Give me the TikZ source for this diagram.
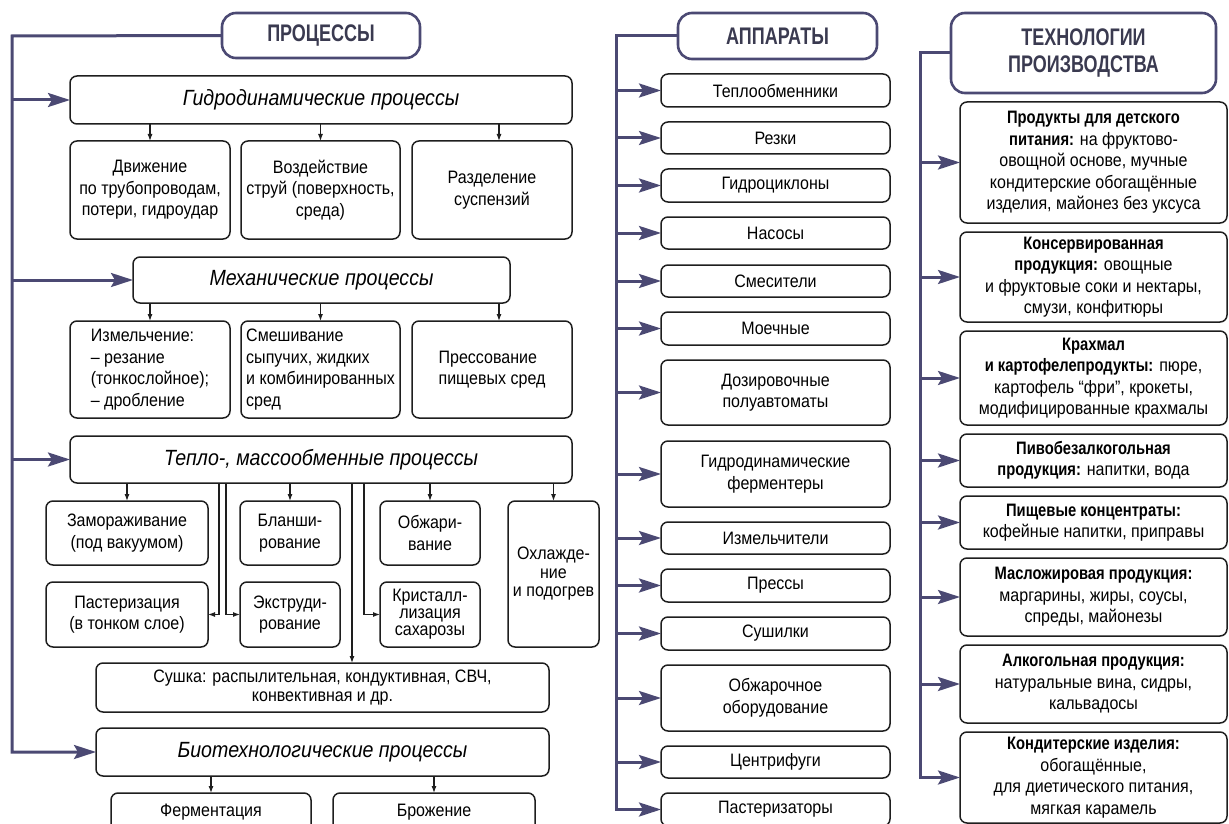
\documentclass[tikz,border=0pt]{standalone}
\usepackage{fontspec}
\setmainfont{Liberation Sans}[FakeStretch=0.89]
\newfontfamily\boldcond{Liberation Sans}[FakeStretch=0.82]
\newfontfamily\titlecond{Liberation Sans}[FakeStretch=0.75]
\usetikzlibrary{arrows.meta}
\definecolor{navy}{RGB}{75,73,115}
\definecolor{titletext}{RGB}{58,58,80}
\definecolor{boxline}{RGB}{30,30,30}
\newcommand{\bcond}[1]{{\boldcond\bfseries #1}}

\begin{document}
\begin{tikzpicture}[x=1pt, y=-1pt,
  box/.style={draw=boxline, line width=1.5pt, rounded corners=7pt, inner sep=0pt, outer sep=0pt,
    anchor=north west, align=center, font=\fontsize{18}{21.5}\selectfont},
  headbox/.style={box, font=\itshape\fontsize{22}{26}\selectfont},
  titlebox/.style={draw=navy, line width=2.6pt, rounded corners=14pt, inner sep=0pt, outer sep=0pt,
    anchor=north west, align=center, text=titletext, font=\titlecond\bfseries\fontsize{24}{27}\selectfont},
  mainarrow/.style={draw=navy, line width=3pt, -{Stealth[length=22pt,width=14pt,inset=4pt]}},
  subarrow/.style={draw=boxline, line width=1.1pt, -{Latex[length=7pt,width=5pt]}}]
  \useasboundingbox (0,0) rectangle (1229,824);

  % Процессы
  \node[titlebox, minimum width=198, minimum height=45] (proc) at (222,13) {ПРОЦЕССЫ};
  \node[headbox, minimum width=502, minimum height=48] (gidro) at (70,76) {Гидродинамические процессы};
  \node[box, minimum width=160, minimum height=98] (dvig) at (70,141) {Движение\\по трубопроводам,\\потери, гидроудар};
  \node[box, minimum width=159, minimum height=98] (vozd) at (241,141) {Воздействие\\струй (поверхность,\\среда)};
  \node[box, minimum width=160, minimum height=98] (razd) at (412,141) {Разделение\\суспензий};

  \node[headbox, minimum width=377, minimum height=46] (mech) at (133,257) {Механические процессы};
  \node[box, align=left, minimum width=160, minimum height=97] (izm) at (70,321) {Измельчение:\\– резание\\(тонкослойное);\\– дробление};
  \node[box, align=left, minimum width=159, minimum height=97] (smesh) at (241,321) {Смешивание\\сыпучих, жидких\\и комбинированных\\сред};
  \node[box, align=left, minimum width=160, minimum height=97] (pressov) at (412,321) {Прессование\\пищевых сред};

  \node[headbox, minimum width=502, minimum height=47] (heat) at (70,436) {Тепло-, массообменные процессы};
  \node[box, minimum width=162, minimum height=64] (zamor) at (46,501) {Замораживание\\(под вакуумом)};
  \node[box, minimum width=100, minimum height=64] (blansh) at (240,501) {Бланши-\\рование};
  \node[box, minimum width=100, minimum height=64] (obzhar) at (380,501) {Обжари-\\вание};
  \node[box, minimum width=91, minimum height=146, font=\fontsize{18}{18.5}\selectfont] (ohlazh) at (508,501) {Охлажде-\\ние\\и подогрев};
  \node[box, minimum width=162, minimum height=65] (pasteriz) at (46,582) {Пастеризация\\(в тонком слое)};
  \node[box, minimum width=100, minimum height=65] (extr) at (240,582) {Экструди-\\рование};
  \node[box, minimum width=100, minimum height=65, font=\fontsize{18}{17}\selectfont] (kristal) at (380,582) {Кристалл-\\лизация\\сахарозы};
  \node[box, minimum width=453, minimum height=49, font=\fontsize{18}{19}\selectfont] (sushka) at (96,663) {Сушка: распылительная, кондуктивная, СВЧ,\\конвективная и др.};

  \node[headbox, minimum width=453, minimum height=48] (bio) at (96,728) {Биотехнологические процессы};
  \node[box, minimum width=200, minimum height=39] (ferment) at (111,793) {Ферментация};
  \node[box, minimum width=202, minimum height=39] (brozh) at (333,793) {Брожение};

  % Левая шина
  \coordinate (ls) at (12,36);
  \draw[mainarrow] (proc.west) -- (ls) |- (bio.west);
  \draw[mainarrow] (ls |- gidro.west) -- (gidro.west);
  \draw[mainarrow] (ls |- mech.west) -- (mech.west);
  \draw[mainarrow] (ls |- heat.west) -- (heat.west);

  % Стрелки внутри
  \draw[subarrow] (dvig.north |- gidro.south) -- (dvig.north);
  \draw[subarrow] (vozd.north |- gidro.south) -- (vozd.north);
  \draw[subarrow] ([xshift=7pt]razd.north |- gidro.south) -- ([xshift=7pt]razd.north);
  \draw[subarrow] (izm.north |- mech.south) -- (izm.north);
  \draw[subarrow] (smesh.north |- mech.south) -- (smesh.north);
  \draw[subarrow] ([xshift=7pt]pressov.north |- mech.south) -- ([xshift=7pt]pressov.north);
  \draw[subarrow] (zamor.north |- heat.south) -- (zamor.north);
  \draw[subarrow] (blansh.north |- heat.south) -- (blansh.north);
  \draw[subarrow] (obzhar.north |- heat.south) -- (obzhar.north);
  \draw[subarrow] (ohlazh.north |- heat.south) -- (ohlazh.north);
  \coordinate (la) at (219,0);
  \coordinate (lb) at (226,0);
  \coordinate (lc) at (352,0);
  \coordinate (ld) at (364,0);
  \draw[subarrow] (heat.south -| la) |- (pasteriz.east);
  \draw[subarrow] (heat.south -| lb) |- (extr.west);
  \draw[subarrow] (heat.south -| lc) -- (lc |- sushka.north);
  \draw[subarrow] (heat.south -| ld) |- (kristal.west);
  \draw[subarrow] (ferment.north |- bio.south) -- (ferment.north);
  \draw[subarrow] (brozh.north |- bio.south) -- (brozh.north);

  % Аппараты
  \node[titlebox, minimum width=199, minimum height=46] (app) at (678,13) {АППАРАТЫ};
  \node[box, minimum width=229, minimum height=33] (teplo) at (661,74) {Теплообменники};
  \node[box, minimum width=229, minimum height=32] (rezki) at (661,122) {Резки};
  \node[box, minimum width=229, minimum height=33] (gcikl) at (661,169) {Гидроциклоны};
  \node[box, minimum width=229, minimum height=32] (nasos) at (661,217) {Насосы};
  \node[box, minimum width=229, minimum height=32] (smesit) at (661,265) {Смесители};
  \node[box, minimum width=229, minimum height=33] (moech) at (661,312) {Моечные};
  \node[box, minimum width=229, minimum height=65] (doz) at (661,360) {Дозировочные\\полуавтоматы};
  \node[box, minimum width=229, minimum height=66] (ferm) at (661,441) {Гидродинамические\\ферментеры};
  \node[box, minimum width=229, minimum height=32] (izmel) at (661,522) {Измельчители};
  \node[box, minimum width=229, minimum height=33] (pressy) at (661,569) {Прессы};
  \node[box, minimum width=229, minimum height=33] (sushil) at (661,617) {Сушилки};
  \node[box, minimum width=229, minimum height=66] (obzhob) at (661,665) {Обжарочное\\оборудование};
  \node[box, minimum width=229, minimum height=32] (centr) at (661,746) {Центрифуги};
  \node[box, minimum width=229, minimum height=33] (pastzr) at (661,793) {Пастеризаторы};

  % Средняя шина
  \coordinate (ms) at (616,36);
  \draw[mainarrow] (app.west) -- (ms) |- (pastzr.west);
  \draw[mainarrow] (ms |- teplo.west) -- (teplo.west);
  \draw[mainarrow] (ms |- rezki.west) -- (rezki.west);
  \draw[mainarrow] (ms |- gcikl.west) -- (gcikl.west);
  \draw[mainarrow] (ms |- nasos.west) -- (nasos.west);
  \draw[mainarrow] (ms |- smesit.west) -- (smesit.west);
  \draw[mainarrow] (ms |- moech.west) -- (moech.west);
  \draw[mainarrow] (ms |- doz.west) -- (doz.west);
  \draw[mainarrow] (ms |- ferm.west) -- (ferm.west);
  \draw[mainarrow] (ms |- izmel.west) -- (izmel.west);
  \draw[mainarrow] (ms |- pressy.west) -- (pressy.west);
  \draw[mainarrow] (ms |- sushil.west) -- (sushil.west);
  \draw[mainarrow] (ms |- obzhob.west) -- (obzhob.west);
  \draw[mainarrow] (ms |- centr.west) -- (centr.west);

  % Технологии производства
  \node[titlebox, minimum width=265, minimum height=80] (tech) at (951,13) {ТЕХНОЛОГИИ\\ПРОИЗВОДСТВА};
  \node[box, minimum width=267, minimum height=121] (tdet) at (960,102) {\bcond{Продукты для детского}\\\bcond{питания:} на фруктово-\\овощной основе, мучные\\кондитерские обогащённые\\изделия, майонез без уксуса};
  \node[box, minimum width=267, minimum height=90] (tkons) at (960,232) {\bcond{Консервированная}\\\bcond{продукция:} овощные\\и фруктовые соки и нектары,\\смузи, конфитюры};
  \node[box, minimum width=267, minimum height=94] (tkrah) at (960,331) {\bcond{Крахмал}\\\bcond{и картофелепродукты:} пюре,\\картофель “фри”, крокеты,\\модифицированные крахмалы};
  \node[box, minimum width=267, minimum height=53] (tpivo) at (960,434) {\bcond{Пивобезалкогольная}\\\bcond{продукция:} напитки, вода};
  \node[box, minimum width=267, minimum height=53] (tkonc) at (960,496) {\bcond{Пищевые концентраты:}\\кофейные напитки, приправы};
  \node[box, minimum width=267, minimum height=78] (tmasl) at (960,558) {\bcond{Масложировая продукция:}\\маргарины, жиры, соусы,\\спреды, майонезы};
  \node[box, minimum width=267, minimum height=78] (talk) at (960,645) {\bcond{Алкогольная продукция:}\\натуральные вина, сидры,\\кальвадосы};
  \node[box, minimum width=267, minimum height=91] (tkond) at (960,732) {\bcond{Кондитерские изделия:}\\обогащённые,\\для диетического питания,\\мягкая карамель};

  % Правая шина
  \coordinate (rs) at (920,53);
  \draw[mainarrow] (tech.west) -- (rs) |- (tkond.west);
  \draw[mainarrow] (rs |- tdet.west) -- (tdet.west);
  \draw[mainarrow] (rs |- tkons.west) -- (tkons.west);
  \draw[mainarrow] (rs |- tkrah.west) -- (tkrah.west);
  \draw[mainarrow] (rs |- tpivo.west) -- (tpivo.west);
  \draw[mainarrow] (rs |- tkonc.west) -- (tkonc.west);
  \draw[mainarrow] (rs |- tmasl.west) -- (tmasl.west);
  \draw[mainarrow] (rs |- talk.west) -- (talk.west);
\end{tikzpicture}
\end{document}
